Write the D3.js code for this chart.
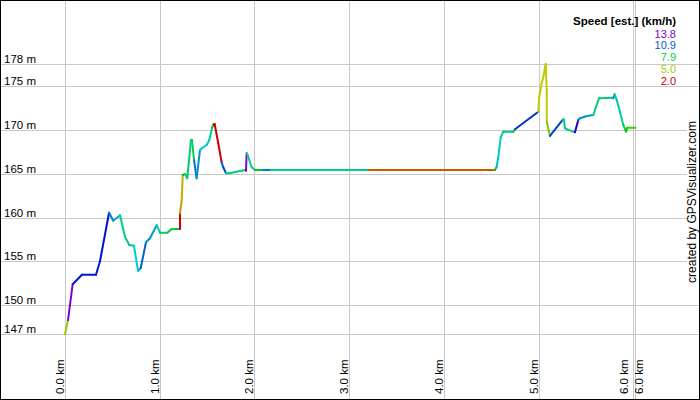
<!DOCTYPE html>
<html><head><meta charset="utf-8">
<script src="https://cdn.jsdelivr.net/npm/d3@7"></script>
<style>html,body{margin:0;padding:0;background:#fff;}svg{display:block;font-family:Arial,"Liberation Sans",sans-serif;}</style>
</head><body>
<svg id="c" width="700" height="400"></svg>
<script>
// distance along track (km)
const distKm = [0.000,0.032,0.081,0.179,0.327,0.370,0.465,0.510,0.581,0.633,0.679,0.728,0.771,0.799,0.855,0.897,0.968,1.003,1.080,1.126,1.214,1.214,1.232,1.243,1.267,1.291,1.330,1.341,1.362,1.390,1.425,1.446,1.496,1.523,1.555,1.567,1.580,1.618,1.654,1.671,1.700,1.735,1.900,1.911,1.918,1.929,1.971,2.006,2.077,2.094,2.172,3.149,3.213,4.540,4.558,4.575,4.600,4.627,4.733,4.751,4.997,5.007,5.033,5.050,5.075,5.086,5.086,5.120,5.254,5.268,5.278,5.314,5.384,5.419,5.437,5.508,5.578,5.595,5.638,5.772,5.789,5.803,5.825,5.859,5.894,5.923,5.936,6.021];
// elevation (m)
const elevM = [146.69,148.32,152.40,153.49,153.49,155.05,160.56,159.65,160.27,157.82,156.88,156.80,153.95,154.22,157.19,157.64,159.13,158.28,158.28,158.70,158.70,160.49,162.01,164.86,164.98,164.49,168.85,168.85,166.57,164.49,167.71,167.91,168.28,168.86,170.30,170.60,170.68,168.48,166.27,165.74,165.06,165.06,165.43,165.35,167.34,167.14,165.74,165.43,165.43,165.43,165.43,165.43,165.43,165.43,165.81,166.95,169.16,169.80,169.80,170.08,172.08,173.79,175.32,176.07,177.52,174.56,170.94,169.31,171.14,171.22,170.19,170.00,169.73,171.14,171.33,171.59,171.71,172.28,173.61,173.68,173.61,174.07,173.42,172.08,170.57,169.80,170.26,170.26];
// estimated speed (km/h) of the segment ending at each point
const speedKmh = [5.2,5.2,14.0,11.8,11.8,11.8,11.9,10.6,10.0,8.9,8.6,8.6,9.6,9.9,10.9,10.4,10.2,9.2,8.3,7.9,7.7,2.0,3.9,4.1,7.0,8.6,8.3,8.3,8.3,10.6,10.3,9.5,9.5,9.6,8.8,7.5,2.0,2.0,2.0,10.9,11.2,8.9,8.5,8.0,14.0,9.0,8.9,8.9,7.5,10.0,10.6,8.9,8.5,3.1,7.0,9.8,9.6,9.0,8.6,7.3,11.5,4.7,4.7,4.7,4.7,4.7,4.7,5.5,11.3,7.5,8.7,8.7,8.7,12.5,10.5,10.3,10.2,9.0,8.7,8.4,10.0,10.3,9.0,9.0,9.0,7.8,7.0,6.3];
// axis ticks
const xTicks = [0,1,2,3,4,5,6];
const yTicks = [150,155,160,165,170,175];
const legendSpeeds = [13.8,10.9,7.9,5.0,2.0];
const legendTitle = "Speed [est.] (km/h)";
const credit = "created by GPSVisualizer.com";

const svg = d3.select("#c");
const W = 700, H = 400;
svg.append("rect").attr("width",W).attr("height",H).attr("fill","#fff");

const xExt = d3.extent(distKm), yExt = d3.extent(elevM);
const x = d3.scaleLinear().domain(xExt).range([65, 635.3]);
const y = d3.scaleLinear().domain(yExt).range([334.3, 64]);
const hue = d3.scaleLinear().domain([2.0,13.8]).range([0,280]).clamp(true);
const col = s => d3.hsl(hue(s),1,0.4).formatHex();

const allX = xTicks.concat([xExt[1]]);
const allY = [yExt[0]].concat(yTicks, [yExt[1]]);

// grid
const grid = svg.append("g").attr("stroke","#c8c8c8").attr("stroke-width",1);
allY.forEach(v=>{
  const yy = Math.round(y(v))+0.5;
  grid.append("line").attr("x1",0).attr("x2",W).attr("y1",yy).attr("y2",yy);
});
allX.forEach(v=>{
  const xx = Math.round(x(v))+0.5;
  grid.append("line").attr("x1",xx).attr("x2",xx).attr("y1",0).attr("y2",H);
});

// y labels
const fy = d3.format(".0f");
allY.forEach(v=>{
  svg.append("text").attr("x",4).attr("y",Math.round(y(v))-1)
    .attr("font-size",11.5).attr("fill","#000").text(fy(v)+" m");
});
// x labels (the track-end label sits right of its line when it is close to the last tick)
const fx = d3.format(".1f");
allX.forEach((v,k)=>{
  const px = Math.round(x(v));
  const isEnd = k === allX.length-1;
  const crowded = isEnd ? (px - Math.round(x(allX[k-1])) < 12)
                        : (k === allX.length-2 && Math.round(x(allX[k+1])) - px < 12);
  let bx = px - 1.5;
  if (crowded && !isEnd) bx = px - 5;
  if (crowded && isEnd) bx = px + 8;
  svg.append("text").attr("transform",`translate(${bx},394) rotate(-90)`)
    .attr("font-size",11.5).attr("fill","#000").text(fx(v)+" km");
});

// track
const segs = d3.range(1, distKm.length).map(i=>({i}));
svg.append("g").selectAll("line").data(segs).join("line")
  .attr("x1",d=>x(distKm[d.i-1])).attr("y1",d=>y(elevM[d.i-1]))
  .attr("x2",d=>x(distKm[d.i])).attr("y2",d=>y(elevM[d.i]))
  .attr("stroke",d=>col(speedKmh[d.i])).attr("stroke-width",2)
  .attr("stroke-linecap","round");

// legend
const lg = svg.append("g");
lg.append("text").attr("x",676).attr("y",25).attr("text-anchor","end")
  .attr("font-size",11.5).attr("font-weight","bold").attr("fill","#000").text(legendTitle);
legendSpeeds.forEach((s,k)=>{
  lg.append("text").attr("x",676).attr("y",37.5+k*11.8).attr("text-anchor","end")
    .attr("font-size",11).attr("fill",col(s)).text(s.toFixed(1));
});

// credit
const cg = svg.append("g");
const ct = cg.append("text").attr("transform","translate(696,202) rotate(-90)")
  .attr("text-anchor","middle").attr("font-size",12).attr("fill","#000").text(credit);
const bb = ct.node().getBBox();
cg.insert("rect","text").attr("x",687).attr("y",202-bb.width/2-1).attr("width",12).attr("height",bb.width+2).attr("fill","#fff");

// border
svg.append("rect").attr("x",0.5).attr("y",0.5).attr("width",W-1).attr("height",H-1)
  .attr("fill","none").attr("stroke","#000").attr("stroke-width",1);
</script>
</body></html>
